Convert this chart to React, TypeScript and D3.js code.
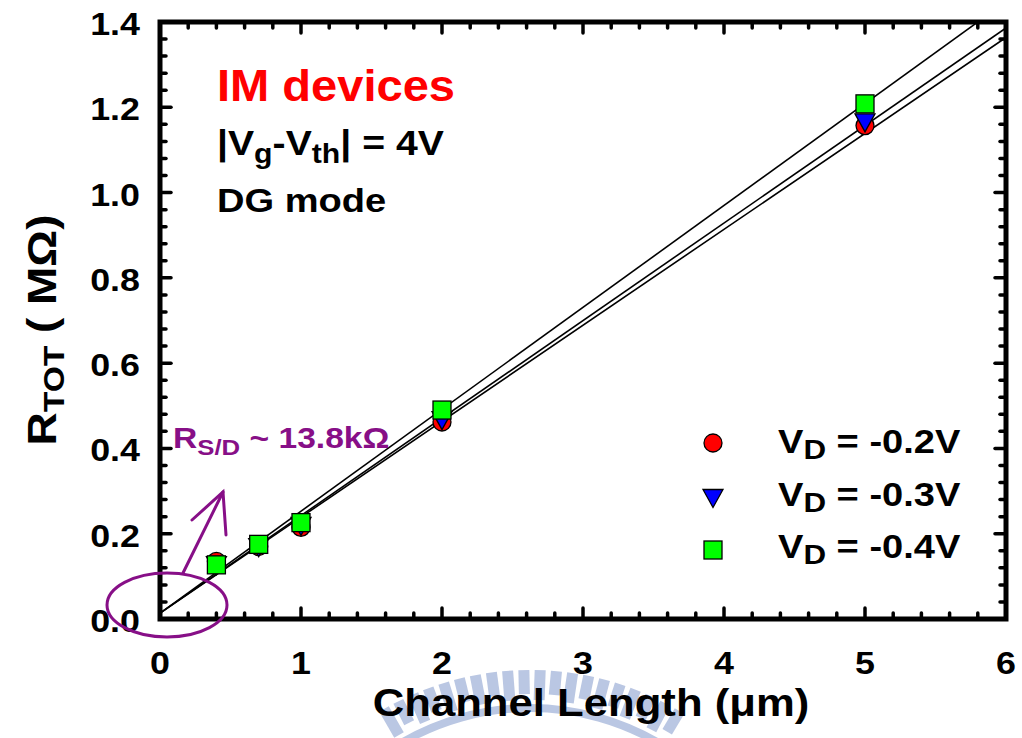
import React from 'react';
import * as d3 from 'd3';

// channel length (um)
const lengths = [0.4, 0.7, 1, 2, 5];
// total resistance (MOhm) for each drain bias
const rVd02 = [0.135, 0.17, 0.215, 0.462, 1.157];
const rVd03 = [0.13, 0.172, 0.222, 0.47, 1.168];
const rVd04 = [0.127, 0.175, 0.226, 0.49, 1.208];
// linear fits
const fitSlopes = [0.225, 0.2287, 0.239];
const fitIntercepts = [0.0138, 0.0138, 0.0138];

const xTicks = [0, 1, 2, 3, 4, 5, 6];
const yTicks = [0, 0.2, 0.4, 0.6, 0.8, 1.0, 1.2, 1.4];

const W = 1022;
const H = 738;
const SX = 1.12; // text looks horizontally stretched
const FONT = 'Arial, "Liberation Sans", Helvetica, sans-serif';

const x = d3.scaleLinear().domain([0, 6]).range([160, 1006]);
const y = d3.scaleLinear().domain([0, 1.4]).range([619, 22]);

const stretch = (px: number, py: number, sx = SX) => `translate(${px},${py}) scale(${sx},1)`;

function Watermark() {
  const cx = 530, cy = 962;
  const bars = d3.range(-30, 31, 3.2);
  const arc = d3.arc()({ innerRadius: 250, outerRadius: 258, startAngle: -0.55, endAngle: 0.55 } as any);
  return (
    <g fill="#b3c1e0" opacity={0.9}>
      {bars.map((a, i) => {
        const len = i % 2 === 0 ? 30 : 24;
        return (
          <rect key={i} x={-5.5} y={-292} width={11} height={len}
            transform={`translate(${cx},${cy}) rotate(${a})`} />
        );
      })}
      <path d={arc || ''} transform={`translate(${cx},${cy})`} />
    </g>
  );
}

export default function App() {
  const xMinor = d3.range(0, 6.001, 0.2);
  const yMinor = d3.range(0, 1.401, 0.04);
  const [x0, x1] = x.range();
  const [y0, y1] = y.range();

  const series = [
    { data: rVd02, color: '#ff0000', shape: 'circle', label: '-0.2V' },
    { data: rVd03, color: '#0000ff', shape: 'triangle', label: '-0.3V' },
    { data: rVd04, color: '#00ff00', shape: 'square', label: '-0.4V' },
  ];

  const marker = (shape: string, color: string, px: number, py: number, key: any) => {
    if (shape === 'circle') return <circle key={key} cx={px} cy={py} r={9} fill={color} stroke="#000" strokeWidth={1.3} />;
    if (shape === 'triangle') {
      const s = 10;
      return <path key={key} d={`M${px - s},${py - 7} L${px + s},${py - 7} L${px},${py + 11} Z`} fill={color} stroke="#000" strokeWidth={1.3} />;
    }
    return <rect key={key} x={px - 9} y={py - 9} width={18} height={18} fill={color} stroke="#000" strokeWidth={1.3} />;
  };

  const fitLine = d3.line<number>().x(d => x(d[0] as any)).y(d => y(d[1] as any));

  return (
    <svg width={W} height={H} style={{ position: 'absolute', left: 0, top: 0 }} fontFamily={FONT} fontWeight="bold">
      <rect width={W} height={H} fill="#fff" />
      <Watermark />
      <defs>
        <clipPath id="plotClip">
          <rect x={x0} y={y1} width={x1 - x0} height={y0 - y1} />
        </clipPath>
      </defs>

      {/* fit lines */}
      <g clipPath="url(#plotClip)">
        {fitSlopes.map((m, i) => (
          <path key={i} d={fitLine([[0, fitIntercepts[i]], [6, fitIntercepts[i] + 6 * m]] as any) || ''}
            fill="none" stroke="#000" strokeWidth={1.6} />
        ))}
      </g>

      {/* data markers */}
      {series.map((s, si) => (
        <g key={si}>
          {lengths.map((L, i) => marker(s.shape, s.color, x(L), y(s.data[i]), i))}
        </g>
      ))}

      {/* ticks */}
      <g stroke="#000" strokeWidth={3.5} strokeLinecap="round">
        {xMinor.map((t, i) => {
          const major = Math.abs(t - Math.round(t)) < 1e-6;
          const len = major ? 11 : 6;
          return (
            <g key={i}>
              <line x1={x(t)} x2={x(t)} y1={y0} y2={y0 - len} />
              <line x1={x(t)} x2={x(t)} y1={y1} y2={y1 + len} />
            </g>
          );
        })}
        {yMinor.map((t, i) => {
          const major = Math.abs(t * 5 - Math.round(t * 5)) < 1e-6;
          const len = major ? 11 : 6;
          return (
            <g key={i}>
              <line x1={x0} x2={x0 + len} y1={y(t)} y2={y(t)} />
              <line x1={x1} x2={x1 - len} y1={y(t)} y2={y(t)} />
            </g>
          );
        })}
      </g>
      <rect x={x0} y={y1} width={x1 - x0} height={y0 - y1} fill="none" stroke="#000" strokeWidth={5} />

      {/* tick labels */}
      <g fontSize={32} fill="#000">
        {yTicks.map((t, i) => (
          <text key={i} transform={stretch(140, y(t) + 13)} textAnchor="end">{d3.format('.1f')(t)}</text>
        ))}
        {xTicks.map((t, i) => (
          <text key={i} transform={stretch(x(t), 674)} textAnchor="middle">{t}</text>
        ))}
      </g>

      {/* axis titles */}
      <text transform={stretch(591, 716)} textAnchor="middle" fontSize={39}>
        Channel Length (μm)
      </text>
      <text transform={`translate(56,330) rotate(-90) scale(${SX},1)`} textAnchor="middle" fontSize={41}>
        R<tspan fontSize={30} dy={8}>TOT</tspan><tspan dy={-8}> ( MΩ)</tspan>
      </text>

      {/* annotations */}
      <text transform={stretch(217, 101, 1.07)} fontSize={44} fill="#ff0000">IM devices</text>
      <text transform={stretch(217, 155)} fontSize={35}>
        |V<tspan fontSize={27} dy={8}>g</tspan><tspan dy={-8}>-V</tspan><tspan fontSize={27} dy={8}>th</tspan><tspan dy={-8}>| = 4V</tspan>
      </text>
      <text transform={stretch(217, 212)} fontSize={34}>DG mode</text>

      <g fill="#870f87">
        <text transform={stretch(173, 448)} fontSize={30}>
          R<tspan fontSize={23} dy={7}>S/D</tspan><tspan dy={-7}> ~ 13.8kΩ</tspan>
        </text>
      </g>
      <g fill="none" stroke="#870f87" strokeWidth={3} strokeLinecap="round">
        <ellipse cx={167} cy={605} rx={60} ry={32} />
        <line x1={183} y1={573} x2={223} y2={492} />
        <polyline points="192,520 223,492 226,535" />
      </g>

      {/* legend */}
      {series.map((s, i) => (
        <g key={i}>
          {marker(s.shape, s.color, 713, 443 + i * 53.5, 'm')}
          <text transform={stretch(778, 453 + i * 52.7)} fontSize={34}>
            V<tspan fontSize={28} dy={6}>D</tspan><tspan dy={-6}> = {s.label}</tspan>
          </text>
        </g>
      ))}
    </svg>
  );
}
